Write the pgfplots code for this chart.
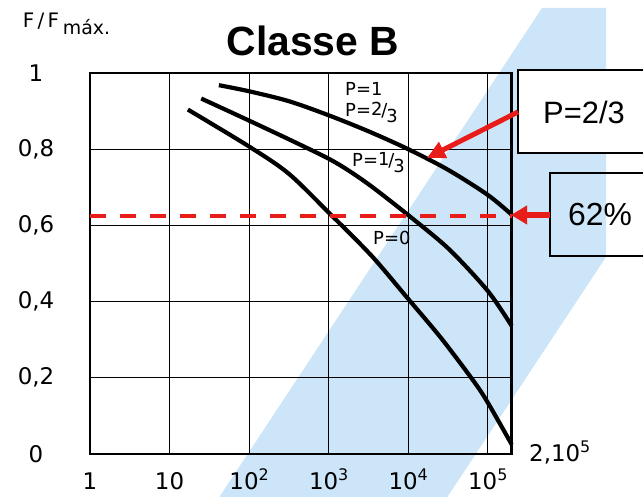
\documentclass[border=0pt]{standalone}
\usepackage{fontspec}
\setmainfont{Liberation Sans}
\newfontfamily\lettering{DejaVu Sans}
\usepackage{pgfplots}
\pgfplotsset{compat=1.18}
\usetikzlibrary{arrows.meta}
\definecolor{bandblue}{RGB}{204,229,248}
\definecolor{arrowred}{RGB}{232,28,24}
\newcommand\LT{\lettering\fontsize{23}{26}\selectfont}
\newcommand\LP{\lettering\fontsize{18}{20}\selectfont}
\newcommand\sups[1]{\raisebox{9bp}{\fontsize{16}{16}\selectfont #1}}

\begin{document}
\begin{tikzpicture}[x=1bp,y=1bp]
\useasboundingbox (0,0) rectangle (643,497);
% light blue diagonal band
\fill[bandblue] (542,489) -- (606,489) -- (606,240) -- (444,-5) -- (216,-5) -- cycle;

\begin{axis}[
  at={(90bp,43bp)}, anchor=south west,
  scale only axis, width=421.7bp, height=381bp,
  xmode=log, xmin=1, xmax=200000, ymin=0, ymax=1,
  xtick={1,10,100,1000,10000,100000},
  xticklabels={1,10,10\sups{2},10\sups{3},10\sups{4},10\sups{5}},
  ytick={0,0.2,0.4,0.6,0.8,1},
  yticklabels={0,{0,2},{0,4},{0,6},{0,8},1},
  xminorticks=false, yminorticks=false,
  grid=major,
  major grid style={black, line width=1.2bp},
  major tick length=0pt, minor tick length=0pt,
  axis line style={line width=2.6bp},
  tick label style={font=\LT},
  xticklabel style={anchor=base, inner sep=0pt, yshift=-36bp},
  yticklabel style={anchor=center, xshift=-54bp},
  clip=false,
]
% P = 1 ; P = 2/3
\addplot[black, line width=4.2bp, smooth] coordinates {
 (41.7,0.968) (100,0.952) (316,0.926) (1000,0.889) (3162,0.847)
 (10000,0.800) (31623,0.746) (100000,0.680) (200000,0.628)};
% P = 1/3
\addplot[black, line width=4.2bp, smooth] coordinates {
 (25,0.933) (100,0.875) (380,0.818) (1000,0.775) (1750,0.745)
 (3470,0.702) (10000,0.627) (32400,0.538) (100000,0.428) (200000,0.336)};
% P = 0
\addplot[black, line width=4.2bp, smooth] coordinates {
 (17,0.904) (100,0.807) (314,0.736) (1020,0.632) (3470,0.520)
 (10000,0.407) (26200,0.303) (67100,0.190) (100000,0.135) (200000,0.025)};
% 62 % line
\addplot[arrowred, line width=4bp, dash pattern=on 16bp off 14bp] coordinates {
 (1,0.625) (200000,0.625)};
\end{axis}

% curve labels
\node[anchor=base west, inner sep=0, font=\LP] at (345,401) {P=1};
\node[anchor=base west, inner sep=0, font=\LP] at (345,380) {P=\raisebox{1bp}{2}\kern-1bp/\kern-1bp\raisebox{-6bp}{3}};
\node[anchor=base west, inner sep=0, font=\LP] at (352,330) {P=\raisebox{1bp}{1}\kern-1bp/\kern-1bp\raisebox{-6bp}{3}};
\node[anchor=base west, inner sep=0, font=\LP] at (373,252) {P=0};

% extra end label
\node[anchor=base west, inner sep=0, font=\LT] at (529,35) {2,10\sups{5}};

% y axis quantity
\node[anchor=base west, inner sep=0, font=\lettering\fontsize{20}{22}\selectfont] at (22.7,469.7) {F\,/\,F};
\node[anchor=base west, inner sep=0, font=\lettering\fontsize{19}{21}\selectfont] at (62.7,462) {máx.};

% title
\node[anchor=base, inner sep=0, font=\bfseries\fontsize{41}{44}\selectfont] at (313,441) {Classe B};

% callout boxes
\draw[fill=white, line width=1.3bp] (518,427) rectangle (652,344);
\node[font=\fontsize{31}{34}\selectfont] at (584,385) {P=2/3};
\draw[line width=1.3bp] (550,324) rectangle (652,241);
\node[font=\fontsize{32}{35}\selectfont] at (600,282) {62\%};

% arrows
\draw[arrowred, line width=5bp, -{Triangle[length=18bp,width=17bp]}] (518,385) -- (427,339);
\draw[arrowred, line width=6bp, -{Triangle[length=16bp,width=18bp]}] (550,282) -- (511,282);
\end{tikzpicture}
\end{document}
